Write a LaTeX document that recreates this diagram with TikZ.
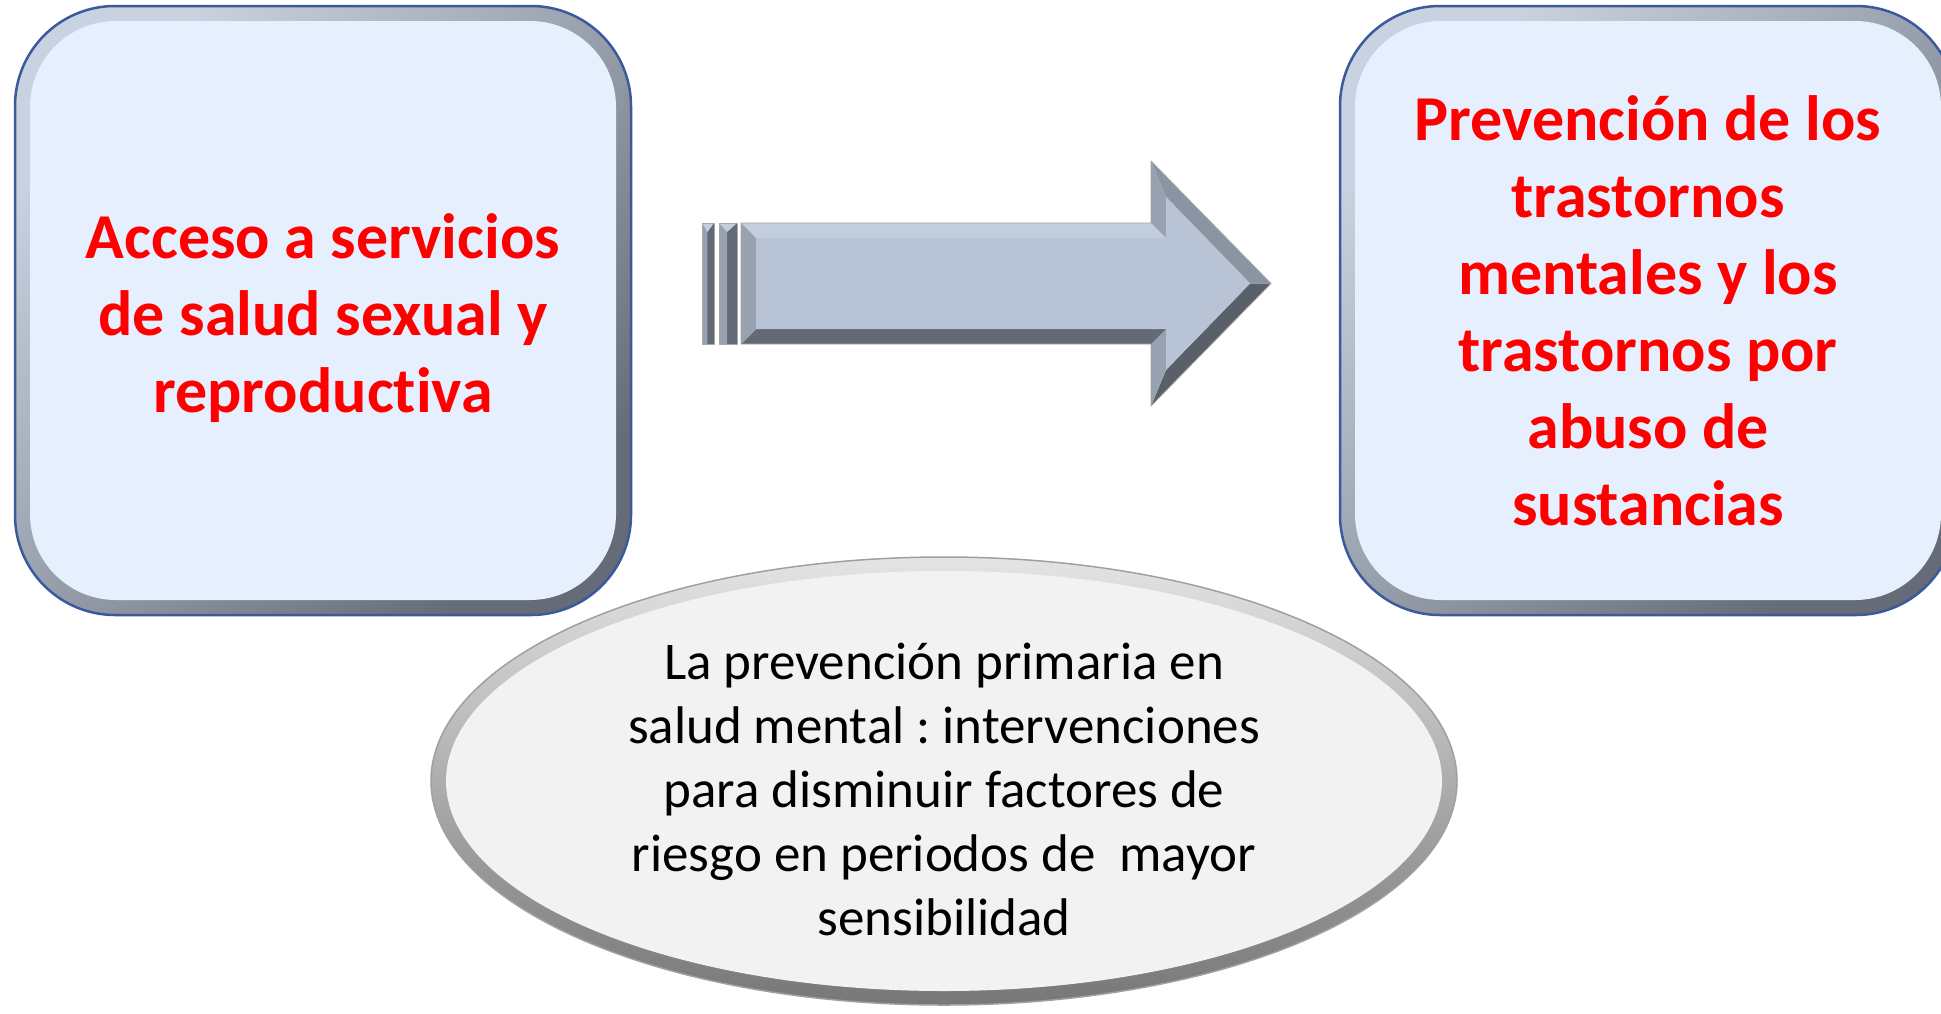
\documentclass[tikz,border=0pt]{standalone}
\usepackage{fontspec}
\setmainfont{Carlito}[RawFeature=-liga]
\usetikzlibrary{shapes.geometric}

\definecolor{boxfill}{HTML}{E6EFFD}
\definecolor{bevellight}{HTML}{C9D2E0}
\definecolor{beveldark}{HTML}{666C77}
\definecolor{boxline}{HTML}{3A5A9C}
\definecolor{ovalfill}{HTML}{F2F2F2}
\definecolor{ovallight}{HTML}{E4E4E4}
\definecolor{ovaldark}{HTML}{777777}
\definecolor{ovalline}{HTML}{A0A0A0}
\definecolor{arrowface}{HTML}{B8C4D6}
\definecolor{arrowtop}{HTML}{C2CDDE}
\definecolor{arrowside}{HTML}{97A1B0}
\definecolor{arrowdiag}{HTML}{8A94A3}
\definecolor{arrowlow}{HTML}{636975}
\definecolor{arrowtip}{HTML}{5A6068}
\definecolor{arrowline}{HTML}{A8A8A8}

\tikzset{
  bevelbox/.style={rectangle, rounded corners=100pt, draw=boxline, line width=2.5pt,
    minimum width=616pt, minimum height=609pt, top color=bevellight,
    bottom color=beveldark, shading angle=45},
  facebox/.style={rectangle, rounded corners=86pt, fill=boxfill,
    minimum width=586pt, minimum height=579pt},
  redtext/.style={text=red, align=center, font=\bfseries\fontsize{64}{77}\selectfont},
  facet/.style={draw=arrowline, line width=0.8pt, line join=round}
}

\begin{document}
\frenchspacing
\begin{tikzpicture}[x=1pt,y=-1pt]
  \clip (0,0) rectangle (1941,1013);
  \fill[white] (0,0) rectangle (1941,1013);

  % oval at the bottom
  \node[ellipse, minimum width=1026pt, minimum height=448pt, draw=ovalline, line width=1.5pt,
        top color=ovallight, bottom color=ovaldark] (oval) at (944,781) {};
  \node[ellipse, fill=ovalfill, minimum width=996pt, minimum height=420pt] (ovalface) at (oval) {};
  \node[align=center, font=\fontsize{53}{64}\selectfont, yshift=-8pt] (ovaltxt) at (oval)
        {La prevención primaria en\\salud mental : intervenciones\\para disminuir factores de\\riesgo en periodos de\ \ mayor\\sensibilidad};

  % the two boxes
  \begin{scope}[every node/.style={bevelbox}]
    \node (acceso) at (323,310.5) {};
    \node (prevencion) at (1648,310.5) {};
  \end{scope}
  \begin{scope}[every node/.style={facebox}]
    \node (accesoface) at (acceso) {};
    \node (prevencionface) at (prevencion) {};
  \end{scope}
  \node[redtext, yshift=-8pt] (accesotxt) at (acceso) {Acceso a servicios\\de salud sexual y\\reproductiva};
  \node[redtext] (prevenciontxt) at (prevencion) {Prevención de los\\trastornos\\mentales y los\\trastornos por\\abuso de\\sustancias};

  % block arrow
  \coordinate (p1) at (741,223);  \coordinate (q1) at (756,238);
  \coordinate (p2) at (1151,223); \coordinate (q2) at (1166,238);
  \coordinate (p3) at (1151,161); \coordinate (q3) at (1166,197);
  \coordinate (p4) at (1271,283.5); \coordinate (q4) at (1250,283.5);
  \coordinate (p5) at (1151,406); \coordinate (q5) at (1166,370);
  \coordinate (p6) at (1151,344); \coordinate (q6) at (1166,329);
  \coordinate (p7) at (741,344);  \coordinate (q7) at (756,329);

  \fill[arrowtop] (p1) -- (p2) -- (q2) -- (q1) -- cycle;
  \fill[arrowside] (p2) -- (p3) -- (q3) -- (q2) -- cycle;
  \fill[arrowdiag] (p3) -- (p4) -- (q4) -- (q3) -- cycle;
  \fill[arrowtip] (p4) -- (p5) -- (q5) -- (q4) -- cycle;
  \fill[arrowside] (p5) -- (p6) -- (q6) -- (q5) -- cycle;
  \fill[arrowlow] (p6) -- (p7) -- (q7) -- (q6) -- cycle;
  \fill[arrowside] (p7) -- (p1) -- (q1) -- (q7) -- cycle;
  \fill[arrowface] (q1) -- (q2) -- (q3) -- (q4) -- (q5) -- (q6) -- (q7) -- cycle;
  \draw[facet] (p1) -- (p2) -- (p3) -- (p4) -- (p5) -- (p6) -- (p7) -- cycle;

  % stripes behind the arrow
  \foreach \xa/\xb in {702/714, 719/737} {
    \fill[arrowlow] (\xa,223) rectangle (\xb,344);
    \fill[arrowside] (\xa,223) -- (\xa+0.45*\xb-0.45*\xa,232) -- (\xa+0.45*\xb-0.45*\xa,344) -- (\xa,344) -- cycle;
    \fill[arrowtop] (\xa,223) -- (\xb,223) -- (\xa+0.45*\xb-0.45*\xa,232) -- cycle;
    \draw[facet] (\xa,223) rectangle (\xb,344);
  }
\end{tikzpicture}
\end{document}
